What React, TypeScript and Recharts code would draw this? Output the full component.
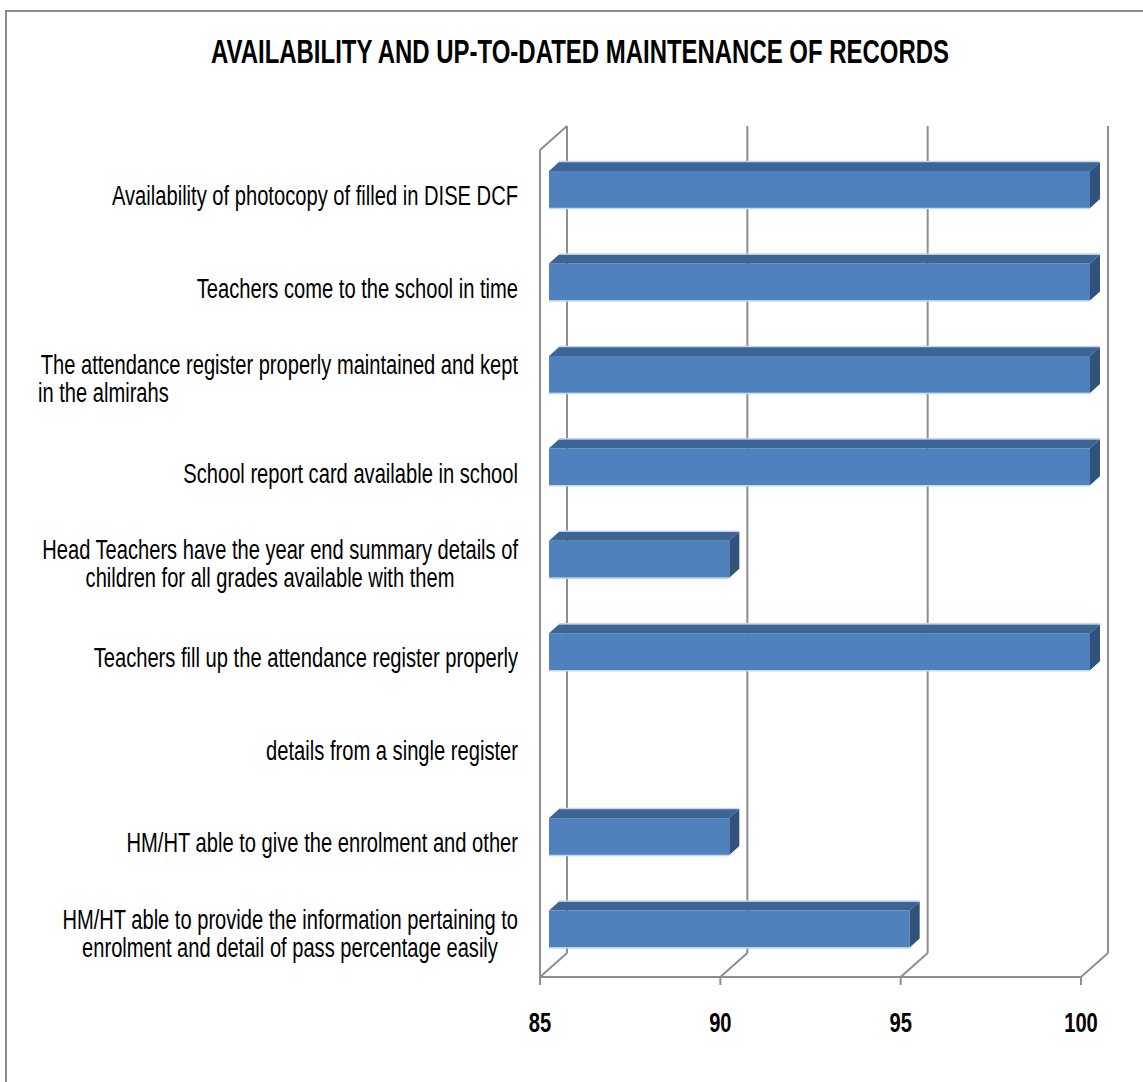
import React from 'react';
import { BarChart, Bar, XAxis, YAxis, CartesianGrid } from 'recharts';

// ---------- data ----------
const categories: string[] = [
  'Availability of photocopy of filled in DISE DCF',
  'Teachers come to the school in time',
  'The attendance register properly maintained and kept\nin the almirahs',
  'School report card available in school',
  'Head Teachers have the year end summary details of\nchildren for all grades available with them',
  'Teachers fill up the attendance register properly',
  'details from a single register',
  'HM/HT able to give the enrolment and other',
  'HM/HT able to provide the information pertaining to\nenrolment and detail of pass percentage easily',
];
const values: (number | null)[] = [100, 100, 100, 100, 90, 100, null, 90, 95];
const xTicks: number[] = [85, 90, 95, 100];
const xDomain: [number, number] = [85, 100];
const title = 'AVAILABILITY AND UP-TO-DATED MAINTENANCE OF RECORDS';

const data = categories.map((name, i) => ({ name, value: values[i] }));

// ---------- layout ----------
const W = 1143;
const H = 1082;
const PLOT_LEFT = 549;
const PLOT_RIGHT = 1090;
const PLOT_TOP = 143;
const PLOT_BOTTOM = 975;
const PLOT_W = PLOT_RIGHT - PLOT_LEFT;
const FRONT_DX = 9;
const BACK_DX = 18;
const FLOOR_Y = 977;
const BACK_FLOOR_Y = 953;
const FRONT_TOP = 150;
const BACK_TOP = 126;
const GRID = '#8e8e8e';
const SX = 0.72;
const SX2 = 0.745;
const FONT = '"Liberation Sans", Arial, sans-serif';
const LABEL_RIGHT = 518;
const BAR_DX = 10;
const BAR_DY = 9;

const LINE2_LAYOUT: Record<number, { anchor: 'start' | 'middle' | 'end'; dx: number }> = {
  2: { anchor: 'start', dx: -480 },
  4: { anchor: 'middle', dx: -248 },
  8: { anchor: 'middle', dx: -228 },
};

const Bar3D = (props: any) => {
  const { x, y, width, height } = props;
  if (width == null || height == null || !(width > 0)) return null;
  const top = `${x},${y} ${x + BAR_DX},${y - BAR_DY} ${x + width + BAR_DX},${y - BAR_DY} ${x + width},${y}`;
  const side = `${x + width},${y} ${x + width + BAR_DX},${y - BAR_DY} ${x + width + BAR_DX},${y + height - BAR_DY} ${x + width},${y + height}`;
  return (
    <g>
      <rect x={x} y={y} width={width} height={height} fill="#4F81BD" />
      <polygon points={top} fill="#3C6494" />
      <polygon points={side} fill="#30527D" />
      <line x1={x} y1={y + height + 0.5} x2={x + width} y2={y + height + 0.5} stroke="#C5D7EE" strokeWidth={1.5} />
      <line x1={x + BAR_DX} y1={y - BAR_DY - 0.5} x2={x + width + BAR_DX} y2={y - BAR_DY - 0.5} stroke="#C5D7EE" strokeWidth={1.5} />
    </g>
  );
};

const XTick = (props: any) => {
  const { x, payload, index } = props;
  const fx = x - FRONT_DX;
  const bx = x + BACK_DX;
  return (
    <g>
      <line x1={fx} y1={FLOOR_Y} x2={bx} y2={BACK_FLOOR_Y} stroke={GRID} strokeWidth={2} />
      <line x1={fx} y1={FLOOR_Y} x2={fx} y2={FLOOR_Y + 8} stroke={GRID} strokeWidth={2} />
      {index === 0 && (
        <g>
          <line x1={fx} y1={FRONT_TOP} x2={fx} y2={FLOOR_Y} stroke={GRID} strokeWidth={2} />
          <line x1={fx} y1={FRONT_TOP} x2={bx} y2={BACK_TOP} stroke={GRID} strokeWidth={2} />
          <line x1={fx} y1={FLOOR_Y} x2={fx + PLOT_W} y2={FLOOR_Y} stroke={GRID} strokeWidth={2} />
        </g>
      )}
      <text
        transform={`translate(${fx},1032) scale(${SX},1)`}
        textAnchor="middle"
        fontFamily={FONT}
        fontWeight="bold"
        fontSize={28}
        fill="#000"
      >
        {payload.value}
      </text>
    </g>
  );
};

const YTick = (props: any) => {
  const { y, payload, index } = props;
  const lines = String(payload.value).split('\n');
  if (lines.length === 1) {
    return (
      <text
        transform={`translate(${LABEL_RIGHT},${y + 16}) scale(${SX},1)`}
        textAnchor="end"
        fontFamily={FONT}
        fontSize={28}
        fill="#000"
      >
        {lines[0]}
      </text>
    );
  }
  const l2 = LINE2_LAYOUT[index] || { anchor: 'end', dx: 0 };
  return (
    <g>
      <text
        transform={`translate(${LABEL_RIGHT},${y}) scale(${SX2},1)`}
        textAnchor="end"
        fontFamily={FONT}
        fontSize={27}
        fill="#000"
      >
        {lines[0]}
      </text>
      <text
        transform={`translate(${LABEL_RIGHT + l2.dx},${y + 28}) scale(${SX2},1)`}
        textAnchor={l2.anchor}
        fontFamily={FONT}
        fontSize={27}
        fill="#000"
      >
        {lines[1]}
      </text>
    </g>
  );
};

const gridGen = (arg: any) => {
  const s = arg && arg.xAxis && arg.xAxis.scale;
  return xTicks.map((v) => {
    const px = typeof s === 'function' ? s(v) : PLOT_LEFT + ((v - xDomain[0]) / (xDomain[1] - xDomain[0])) * PLOT_W;
    return px + BACK_DX;
  });
};

export default function App() {
  return (
    <div style={{ position: 'absolute', left: 0, top: 0, width: W, height: H, overflow: 'hidden', background: '#fff' }}>
      <div
        style={{
          position: 'absolute',
          left: 5,
          top: 10,
          width: W + 50,
          height: H + 50,
          borderLeft: '2px solid #8c8c8c',
          borderTop: '2px solid #8c8c8c',
        }}
      />
      <svg width={W} height={110} style={{ position: 'absolute', left: 0, top: 0 }}>
        <text
          transform={`translate(580,63) scale(0.726,1)`}
          textAnchor="middle"
          fontFamily={FONT}
          fontWeight="bold"
          fontSize={33}
          fill="#000"
        >
          {title}
        </text>
      </svg>
      <div style={{ position: 'absolute', left: 0, top: 0 }}>
        <BarChart
          width={W}
          height={H}
          data={data}
          layout="vertical"
          margin={{ top: PLOT_TOP, right: W - PLOT_RIGHT, bottom: H - PLOT_BOTTOM - 50, left: 0 }}
          barCategoryGap={0}
        >
          <CartesianGrid
            horizontal={false}
            vertical={true}
            verticalCoordinatesGenerator={gridGen}
            y={BACK_TOP}
            height={BACK_FLOOR_Y - BACK_TOP}
            stroke={GRID}
            strokeWidth={2}
            fill="none"
          />
          <XAxis
            type="number"
            domain={xDomain}
            ticks={xTicks}
            interval={0}
            axisLine={false}
            tickLine={false}
            height={50}
            tick={<XTick />}
          />
          <YAxis
            type="category"
            dataKey="name"
            width={PLOT_LEFT}
            axisLine={false}
            tickLine={false}
            interval={0}
            tick={<YTick />}
          />
          <Bar dataKey="value" barSize={37} isAnimationActive={false} shape={<Bar3D />} />
        </BarChart>
      </div>
    </div>
  );
}
